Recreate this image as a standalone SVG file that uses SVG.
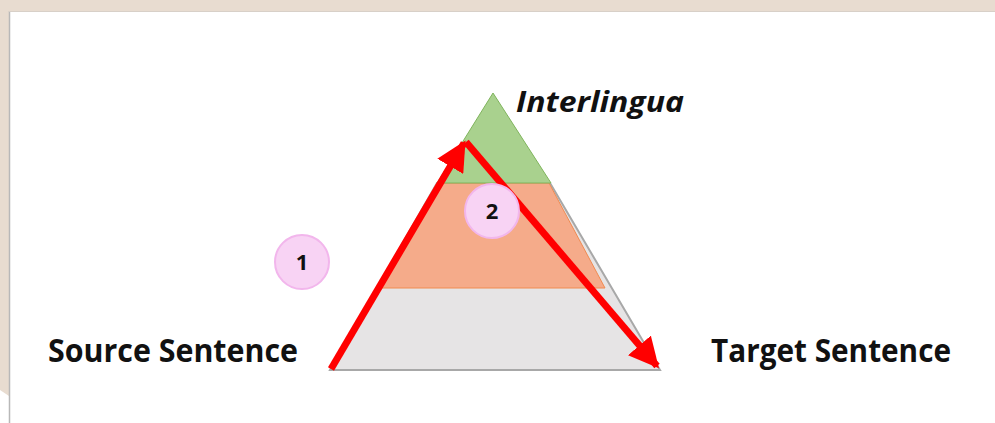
<svg xmlns="http://www.w3.org/2000/svg" width="995" height="423" viewBox="0 0 995 423">
<style>
.lbl{font-family:"Open Sans","Liberation Sans",sans-serif;font-weight:bold;fill:#111}
.num{font-family:"Open Sans","Liberation Sans",sans-serif;font-weight:bold;font-size:22px;fill:#111;text-anchor:middle}
.badge{fill:#f8d3f4;stroke:#f2b6ec;stroke-width:2}
.arrow{stroke:#ff0000;stroke-width:7;fill:none}
</style>
<defs>
<marker id="ah" viewBox="0 0 10 10" refX="9" refY="5" markerWidth="4.3" markerHeight="4.3" markerUnits="strokeWidth" orient="auto">
<path d="M0,0 L10,5 L0,10 Z" fill="#ff0000"/>
</marker>
</defs>
<rect x="0" y="0" width="995" height="423" fill="#e8dcd0"/>
<rect x="9" y="11" width="986" height="412" fill="#ffffff"/>
<polygon points="0,390 9,396 9,423 0,423" fill="#ffffff"/>
<line x1="9.5" y1="11" x2="9.5" y2="423" stroke="#b8b8b8" stroke-width="1.5"/>
<line x1="9" y1="11.5" x2="995" y2="11.5" stroke="#d8d0c8" stroke-width="1"/>

<g id="pyramid">
<polygon id="base-layer" points="330,370 660,370 550,183 437,183" fill="#e6e4e5" stroke="#a8a8a8" stroke-width="2"/>
<polygon id="middle-layer" points="379,288 605,288 549,183 437,183" fill="#f5ab8a" stroke="#f08a50" stroke-width="1"/>
<polygon id="top-layer" points="493,93 437,183 551,183" fill="#a9d18e" stroke="#7fb45c" stroke-width="1"/>
</g>

<g id="connectors">
<line class="arrow" x1="331" y1="369" x2="464" y2="143" marker-end="url(#ah)"/>
<line class="arrow" x1="466" y1="142" x2="657" y2="366" marker-end="url(#ah)"/>
</g>

<g id="badge-1">
<circle class="badge" cx="302" cy="262" r="27"/>
<text class="num" x="302" y="270">1</text>
</g>
<g id="badge-2">
<circle class="badge" cx="492" cy="211" r="27"/>
<text class="num" x="492" y="219">2</text>
</g>

<g id="label-interlingua">
<text class="lbl" x="516" y="112" font-size="28" font-style="italic" textLength="168" lengthAdjust="spacingAndGlyphs">Interlingua</text>
</g>
<g id="label-source">
<text class="lbl" x="48" y="362" font-size="32" textLength="250" lengthAdjust="spacingAndGlyphs">Source Sentence</text>
</g>
<g id="label-target">
<text class="lbl" x="711" y="362" font-size="32" textLength="240" lengthAdjust="spacingAndGlyphs">Target Sentence</text>
</g>
</svg>
